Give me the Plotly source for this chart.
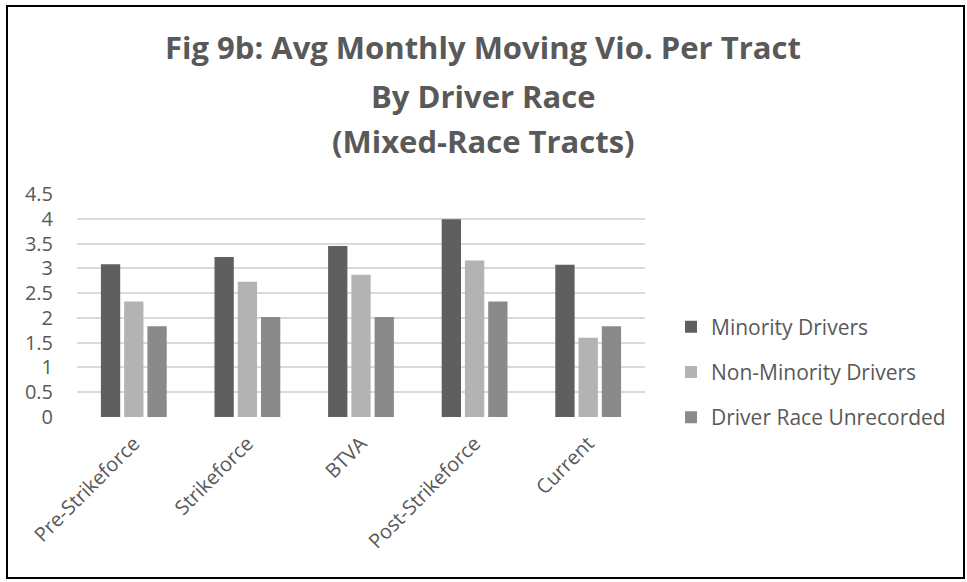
import plotly.graph_objects as go

categories = ["Pre-Strikeforce", "Strikeforce", "BTVA", "Post-Strikeforce", "Current"]
minority = [3.08, 3.23, 3.45, 3.99, 3.07]
non_minority = [2.33, 2.73, 2.87, 3.16, 1.60]
unrecorded = [1.83, 2.02, 2.02, 2.33, 1.83]
series_names = ["Minority Drivers", "Non-Minority Drivers", "Driver Race Unrecorded"]
series_colors = ["#5f5f5f", "#b3b3b3", "#8a8a8a"]
y_ticks = [0, 0.5, 1, 1.5, 2, 2.5, 3, 3.5, 4, 4.5]
title_lines = ["Fig 9b: Avg Monthly Moving Vio. Per Tract", "By Driver Race", "(Mixed-Race Tracts)"]

W, H = 967, 582
L, R, T, B = 77, 645, 194, 417  # plot area pixels

def px_x(px):
    return (px - L) / (R - L)

def px_y(py):
    return (B - py) / (B - T)

fig = go.Figure()
for i, (name, vals, col) in enumerate(zip(series_names, [minority, non_minority, unrecorded], series_colors)):
    fig.add_trace(go.Bar(
        x=categories, y=vals, name=name, legendgroup=str(i),
        marker=dict(color=col, line=dict(color="white", width=0)),
    ))

font_family = "Open Sans, Noto Sans, sans-serif"
txt_col = "#595959"

annotations = []
title_y = [47, 96, 141]
for line, yy in zip(title_lines, title_y):
    annotations.append(dict(
        text="<b>%s</b>" % line, xref="paper", yref="paper",
        x=px_x(483), y=px_y(yy), xanchor="center", yanchor="middle",
        showarrow=False, font=dict(family=font_family, size=31, color=txt_col),
    ))

fig.update_layout(
    width=W, height=H,
    margin=dict(l=L, r=W - R, t=T, b=H - B, pad=0),
    paper_bgcolor="white", plot_bgcolor="white",
    barmode="group", bargap=0.386, bargroupgap=0.17,
    font=dict(family=font_family, size=20, color=txt_col),
    showlegend=True,
    legend=dict(
        x=px_x(671), y=px_y(372), xanchor="left", yanchor="middle",
        font=dict(family=font_family, size=21, color=txt_col),
        traceorder="grouped", tracegroupgap=15, bgcolor="rgba(0,0,0,0)",
        itemwidth=30,
    ),
    xaxis=dict(
        tickangle=-45, showgrid=False, showline=False, zeroline=False,
        ticks="", ticklabelstandoff=10,
        tickfont=dict(family=font_family, size=20, color=txt_col),
    ),
    yaxis=dict(
        range=[0, 4.5], tickvals=y_ticks, ticktext=[("%g" % v) for v in y_ticks],
        showgrid=True, gridcolor="#d9d9d9", gridwidth=1.5,
        zeroline=False, showline=False, ticks="", ticklabelstandoff=23,
        tickfont=dict(family=font_family, size=20, color=txt_col),
    ),
    annotations=annotations,
    shapes=[dict(
        type="rect", xref="paper", yref="paper", layer="above",
        x0=px_x(7), x1=px_x(964), y0=px_y(578), y1=px_y(6),
        line=dict(color="black", width=2), fillcolor="rgba(0,0,0,0)",
    )],
)

fig.write_html("out.html", config={"displayModeBar": False},
               post_script="document.body.style.margin='0px';")
